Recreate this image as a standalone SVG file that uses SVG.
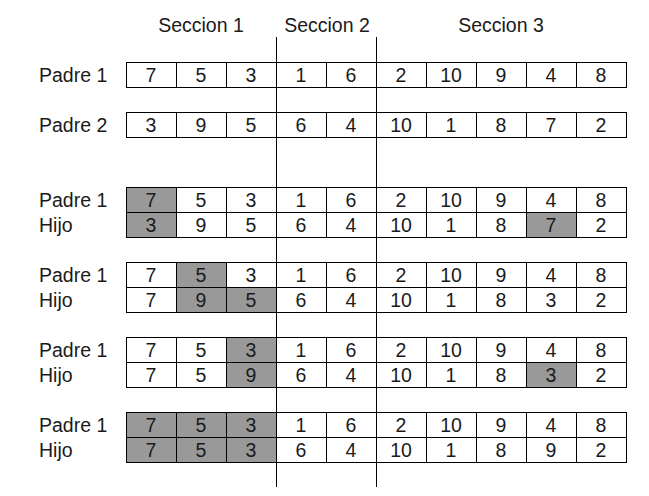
<svg xmlns="http://www.w3.org/2000/svg" width="649" height="496" viewBox="0 0 649 496">
<style>
text{font-family:"Liberation Sans",Arial,sans-serif;font-size:19.5px;fill:#1a1a1a}
.v{text-anchor:middle}
.c{fill:#fff;stroke:#000;stroke-width:1}
.s{fill:#999;stroke:#000;stroke-width:1}
.ln{stroke:#000;stroke-width:1;fill:none}
</style>
<rect width="649" height="496" fill="#fff"/>
<g id="headers">
<text class="v" x="201" y="32">Seccion 1</text>
<text class="v" x="327" y="32">Seccion 2</text>
<text class="v" x="501" y="32">Seccion 3</text>
</g>
<g id="padre1-a">
<text x="39" y="82">Padre 1</text>
<rect class="c" x="126.5" y="62.5" width="50" height="25"/><rect class="c" x="176.5" y="62.5" width="50" height="25"/><rect class="c" x="226.5" y="62.5" width="50" height="25"/><rect class="c" x="276.5" y="62.5" width="50" height="25"/><rect class="c" x="326.5" y="62.5" width="50" height="25"/><rect class="c" x="376.5" y="62.5" width="50" height="25"/><rect class="c" x="426.5" y="62.5" width="50" height="25"/><rect class="c" x="476.5" y="62.5" width="50" height="25"/><rect class="c" x="526.5" y="62.5" width="50" height="25"/><rect class="c" x="576.5" y="62.5" width="50" height="25"/>
<text class="v" x="151" y="82">7</text><text class="v" x="201" y="82">5</text><text class="v" x="251" y="82">3</text><text class="v" x="301" y="82">1</text><text class="v" x="351" y="82">6</text><text class="v" x="401" y="82">2</text><text class="v" x="451" y="82">10</text><text class="v" x="501" y="82">9</text><text class="v" x="551" y="82">4</text><text class="v" x="601" y="82">8</text>
</g>
<g id="padre2">
<text x="39" y="132">Padre 2</text>
<rect class="c" x="126.5" y="112.5" width="50" height="25"/><rect class="c" x="176.5" y="112.5" width="50" height="25"/><rect class="c" x="226.5" y="112.5" width="50" height="25"/><rect class="c" x="276.5" y="112.5" width="50" height="25"/><rect class="c" x="326.5" y="112.5" width="50" height="25"/><rect class="c" x="376.5" y="112.5" width="50" height="25"/><rect class="c" x="426.5" y="112.5" width="50" height="25"/><rect class="c" x="476.5" y="112.5" width="50" height="25"/><rect class="c" x="526.5" y="112.5" width="50" height="25"/><rect class="c" x="576.5" y="112.5" width="50" height="25"/>
<text class="v" x="151" y="132">3</text><text class="v" x="201" y="132">9</text><text class="v" x="251" y="132">5</text><text class="v" x="301" y="132">6</text><text class="v" x="351" y="132">4</text><text class="v" x="401" y="132">10</text><text class="v" x="451" y="132">1</text><text class="v" x="501" y="132">8</text><text class="v" x="551" y="132">7</text><text class="v" x="601" y="132">2</text>
</g>
<g id="paso1">
<text x="39" y="207">Padre 1</text>
<text x="39" y="232">Hijo</text>
<rect class="s" x="126.5" y="187.5" width="50" height="25"/><rect class="c" x="176.5" y="187.5" width="50" height="25"/><rect class="c" x="226.5" y="187.5" width="50" height="25"/><rect class="c" x="276.5" y="187.5" width="50" height="25"/><rect class="c" x="326.5" y="187.5" width="50" height="25"/><rect class="c" x="376.5" y="187.5" width="50" height="25"/><rect class="c" x="426.5" y="187.5" width="50" height="25"/><rect class="c" x="476.5" y="187.5" width="50" height="25"/><rect class="c" x="526.5" y="187.5" width="50" height="25"/><rect class="c" x="576.5" y="187.5" width="50" height="25"/>
<text class="v" x="151" y="207">7</text><text class="v" x="201" y="207">5</text><text class="v" x="251" y="207">3</text><text class="v" x="301" y="207">1</text><text class="v" x="351" y="207">6</text><text class="v" x="401" y="207">2</text><text class="v" x="451" y="207">10</text><text class="v" x="501" y="207">9</text><text class="v" x="551" y="207">4</text><text class="v" x="601" y="207">8</text>
<rect class="s" x="126.5" y="212.5" width="50" height="25"/><rect class="c" x="176.5" y="212.5" width="50" height="25"/><rect class="c" x="226.5" y="212.5" width="50" height="25"/><rect class="c" x="276.5" y="212.5" width="50" height="25"/><rect class="c" x="326.5" y="212.5" width="50" height="25"/><rect class="c" x="376.5" y="212.5" width="50" height="25"/><rect class="c" x="426.5" y="212.5" width="50" height="25"/><rect class="c" x="476.5" y="212.5" width="50" height="25"/><rect class="s" x="526.5" y="212.5" width="50" height="25"/><rect class="c" x="576.5" y="212.5" width="50" height="25"/>
<text class="v" x="151" y="232">3</text><text class="v" x="201" y="232">9</text><text class="v" x="251" y="232">5</text><text class="v" x="301" y="232">6</text><text class="v" x="351" y="232">4</text><text class="v" x="401" y="232">10</text><text class="v" x="451" y="232">1</text><text class="v" x="501" y="232">8</text><text class="v" x="551" y="232">7</text><text class="v" x="601" y="232">2</text>
</g>
<g id="paso2">
<text x="39" y="282">Padre 1</text>
<text x="39" y="307">Hijo</text>
<rect class="c" x="126.5" y="262.5" width="50" height="25"/><rect class="s" x="176.5" y="262.5" width="50" height="25"/><rect class="c" x="226.5" y="262.5" width="50" height="25"/><rect class="c" x="276.5" y="262.5" width="50" height="25"/><rect class="c" x="326.5" y="262.5" width="50" height="25"/><rect class="c" x="376.5" y="262.5" width="50" height="25"/><rect class="c" x="426.5" y="262.5" width="50" height="25"/><rect class="c" x="476.5" y="262.5" width="50" height="25"/><rect class="c" x="526.5" y="262.5" width="50" height="25"/><rect class="c" x="576.5" y="262.5" width="50" height="25"/>
<text class="v" x="151" y="282">7</text><text class="v" x="201" y="282">5</text><text class="v" x="251" y="282">3</text><text class="v" x="301" y="282">1</text><text class="v" x="351" y="282">6</text><text class="v" x="401" y="282">2</text><text class="v" x="451" y="282">10</text><text class="v" x="501" y="282">9</text><text class="v" x="551" y="282">4</text><text class="v" x="601" y="282">8</text>
<rect class="c" x="126.5" y="287.5" width="50" height="25"/><rect class="s" x="176.5" y="287.5" width="50" height="25"/><rect class="s" x="226.5" y="287.5" width="50" height="25"/><rect class="c" x="276.5" y="287.5" width="50" height="25"/><rect class="c" x="326.5" y="287.5" width="50" height="25"/><rect class="c" x="376.5" y="287.5" width="50" height="25"/><rect class="c" x="426.5" y="287.5" width="50" height="25"/><rect class="c" x="476.5" y="287.5" width="50" height="25"/><rect class="c" x="526.5" y="287.5" width="50" height="25"/><rect class="c" x="576.5" y="287.5" width="50" height="25"/>
<text class="v" x="151" y="307">7</text><text class="v" x="201" y="307">9</text><text class="v" x="251" y="307">5</text><text class="v" x="301" y="307">6</text><text class="v" x="351" y="307">4</text><text class="v" x="401" y="307">10</text><text class="v" x="451" y="307">1</text><text class="v" x="501" y="307">8</text><text class="v" x="551" y="307">3</text><text class="v" x="601" y="307">2</text>
</g>
<g id="paso3">
<text x="39" y="357">Padre 1</text>
<text x="39" y="382">Hijo</text>
<rect class="c" x="126.5" y="337.5" width="50" height="25"/><rect class="c" x="176.5" y="337.5" width="50" height="25"/><rect class="s" x="226.5" y="337.5" width="50" height="25"/><rect class="c" x="276.5" y="337.5" width="50" height="25"/><rect class="c" x="326.5" y="337.5" width="50" height="25"/><rect class="c" x="376.5" y="337.5" width="50" height="25"/><rect class="c" x="426.5" y="337.5" width="50" height="25"/><rect class="c" x="476.5" y="337.5" width="50" height="25"/><rect class="c" x="526.5" y="337.5" width="50" height="25"/><rect class="c" x="576.5" y="337.5" width="50" height="25"/>
<text class="v" x="151" y="357">7</text><text class="v" x="201" y="357">5</text><text class="v" x="251" y="357">3</text><text class="v" x="301" y="357">1</text><text class="v" x="351" y="357">6</text><text class="v" x="401" y="357">2</text><text class="v" x="451" y="357">10</text><text class="v" x="501" y="357">9</text><text class="v" x="551" y="357">4</text><text class="v" x="601" y="357">8</text>
<rect class="c" x="126.5" y="362.5" width="50" height="25"/><rect class="c" x="176.5" y="362.5" width="50" height="25"/><rect class="s" x="226.5" y="362.5" width="50" height="25"/><rect class="c" x="276.5" y="362.5" width="50" height="25"/><rect class="c" x="326.5" y="362.5" width="50" height="25"/><rect class="c" x="376.5" y="362.5" width="50" height="25"/><rect class="c" x="426.5" y="362.5" width="50" height="25"/><rect class="c" x="476.5" y="362.5" width="50" height="25"/><rect class="s" x="526.5" y="362.5" width="50" height="25"/><rect class="c" x="576.5" y="362.5" width="50" height="25"/>
<text class="v" x="151" y="382">7</text><text class="v" x="201" y="382">5</text><text class="v" x="251" y="382">9</text><text class="v" x="301" y="382">6</text><text class="v" x="351" y="382">4</text><text class="v" x="401" y="382">10</text><text class="v" x="451" y="382">1</text><text class="v" x="501" y="382">8</text><text class="v" x="551" y="382">3</text><text class="v" x="601" y="382">2</text>
</g>
<g id="paso4">
<text x="39" y="432">Padre 1</text>
<text x="39" y="457">Hijo</text>
<rect class="s" x="126.5" y="412.5" width="50" height="25"/><rect class="s" x="176.5" y="412.5" width="50" height="25"/><rect class="s" x="226.5" y="412.5" width="50" height="25"/><rect class="c" x="276.5" y="412.5" width="50" height="25"/><rect class="c" x="326.5" y="412.5" width="50" height="25"/><rect class="c" x="376.5" y="412.5" width="50" height="25"/><rect class="c" x="426.5" y="412.5" width="50" height="25"/><rect class="c" x="476.5" y="412.5" width="50" height="25"/><rect class="c" x="526.5" y="412.5" width="50" height="25"/><rect class="c" x="576.5" y="412.5" width="50" height="25"/>
<text class="v" x="151" y="432">7</text><text class="v" x="201" y="432">5</text><text class="v" x="251" y="432">3</text><text class="v" x="301" y="432">1</text><text class="v" x="351" y="432">6</text><text class="v" x="401" y="432">2</text><text class="v" x="451" y="432">10</text><text class="v" x="501" y="432">9</text><text class="v" x="551" y="432">4</text><text class="v" x="601" y="432">8</text>
<rect class="s" x="126.5" y="437.5" width="50" height="25"/><rect class="s" x="176.5" y="437.5" width="50" height="25"/><rect class="s" x="226.5" y="437.5" width="50" height="25"/><rect class="c" x="276.5" y="437.5" width="50" height="25"/><rect class="c" x="326.5" y="437.5" width="50" height="25"/><rect class="c" x="376.5" y="437.5" width="50" height="25"/><rect class="c" x="426.5" y="437.5" width="50" height="25"/><rect class="c" x="476.5" y="437.5" width="50" height="25"/><rect class="c" x="526.5" y="437.5" width="50" height="25"/><rect class="c" x="576.5" y="437.5" width="50" height="25"/>
<text class="v" x="151" y="457">7</text><text class="v" x="201" y="457">5</text><text class="v" x="251" y="457">3</text><text class="v" x="301" y="457">6</text><text class="v" x="351" y="457">4</text><text class="v" x="401" y="457">10</text><text class="v" x="451" y="457">1</text><text class="v" x="501" y="457">8</text><text class="v" x="551" y="457">9</text><text class="v" x="601" y="457">2</text>
</g>
<g id="connectors">
<line class="ln" x1="276.5" y1="37" x2="276.5" y2="487"/>
<line class="ln" x1="376.5" y1="37" x2="376.5" y2="487"/>
</g>
</svg>
